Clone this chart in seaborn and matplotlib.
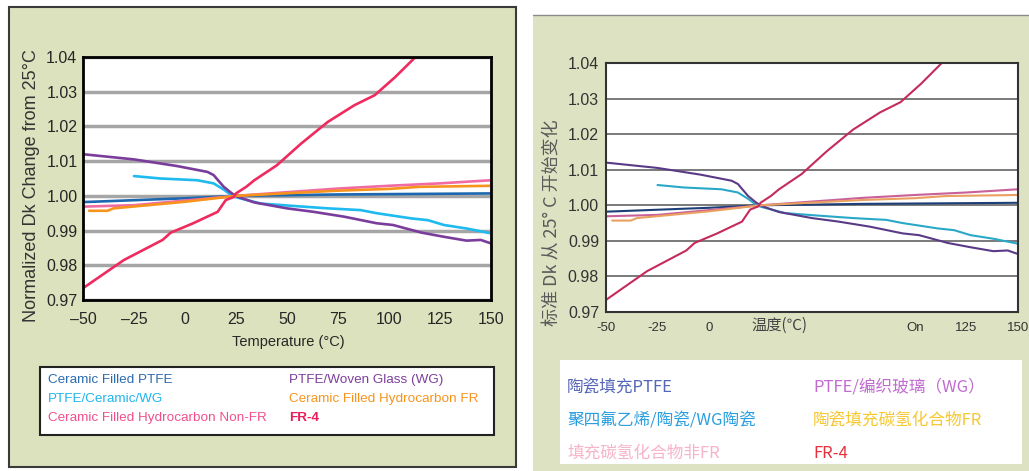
import matplotlib
matplotlib.use("Agg")
import matplotlib.pyplot as plt
from matplotlib.patches import Rectangle
from matplotlib.transforms import blended_transform_factory
import pandas as pd
import seaborn as sns

# Dk vs temperature (same curves in both panels)
series = ['cf_ptfe', 'ptfe_cer_wg', 'hc_nonfr', 'ptfe_wg', 'hc_fr', 'fr4']

cf_ptfe_t = [-50, 0, 25, 75, 150]
cf_ptfe_dk = [0.9982, 0.9993, 1.0000, 1.0004, 1.0007]

ptfe_cer_wg_t = [-25, -12, 6, 14, 19, 22, 25, 37, 53, 70, 86, 94, 111, 119, 127, 138, 150]
ptfe_cer_wg_dk = [1.0057, 1.0050, 1.0045, 1.0036, 1.0018, 1.0005, 0.9996, 0.9978, 0.9971,
                  0.9964, 0.9959, 0.9950, 0.9935, 0.9930, 0.9916, 0.9906, 0.9892]

hc_nonfr_t = [-50, -25, 25, 75, 100, 125, 150]
hc_nonfr_dk = [0.9969, 0.9973, 1.0000, 1.0021, 1.0029, 1.0036, 1.0045]

ptfe_wg_t = [-50, -25, -4, 11, 14, 19, 23, 26, 34, 50, 63, 78, 94, 102, 116, 127, 138, 145, 150]
ptfe_wg_dk = [1.0120, 1.0105, 1.0086, 1.0069, 1.0060, 1.0026, 1.0007, 0.9997, 0.9981, 0.9964,
              0.9954, 0.9940, 0.9921, 0.9916, 0.9894, 0.9882, 0.9871, 0.9873, 0.9863]

hc_fr_t = [-47, -38, -35, 0, 25, 75, 100, 115, 150]
hc_fr_dk = [0.9957, 0.9957, 0.9964, 0.9983, 1.0000, 1.0015, 1.0020, 1.0026, 1.0029]

fr4_t = [-50, -30, -11, -7, 4, 16, 20, 24, 25, 30, 34, 45, 57, 70, 83, 93, 103, 113]
fr4_dk = [0.9734, 0.9815, 0.9873, 0.9894, 0.9921, 0.9954, 0.9988, 0.9997, 1.0007, 1.0026,
          1.0045, 1.0088, 1.0151, 1.0213, 1.0261, 1.0290, 1.0342, 1.0400]

labels_en = ['Ceramic Filled PTFE', 'PTFE/Ceramic/WG', 'Ceramic Filled Hydrocarbon Non-FR',
             'PTFE/Woven Glass (WG)', 'Ceramic Filled Hydrocarbon FR', 'FR-4']
labels_cn = ['陶瓷填充PTFE', '聚四氟乙烯/陶瓷/WG陶瓷', '填充碳氢化合物非FR',
             'PTFE/编织玻璃（WG）', '陶瓷填充碳氢化合物FR', 'FR-4']

yticks = [0.97, 0.98, 0.99, 1.00, 1.01, 1.02, 1.03, 1.04]
xticks = [-50, -25, 0, 25, 50, 75, 100, 125, 150]
xlabels_en = ['–50', '–25', '0', '25', '50', '75', '100', '125', '150']
xlabels_cn = ['-50', '-25', '0', '', '', '', 'On', '125', '150']

# colours
line_en = ['#1b67b0', '#1ebaf0', '#f06aa3', '#7a3d9c', '#f7941d', '#ef2b5e']
text_en = ['#2b6cb0', '#20b5ee', '#f0508c', '#7d3f9c', '#f7941d', '#ec1e5a']
line_cn = ['#1d3f78', '#2aa8c8', '#c8609a', '#5a3a86', '#eaa060', '#c42a5a']
text_cn = ['#5566b8', '#2a9fe0', '#f7b3c8', '#c06cd0', '#f5c832', '#e8303c']

df = pd.concat([
    pd.DataFrame({'temp': t, 'dk': d, 'series': s})
    for s, t, d in zip(series,
                       [cf_ptfe_t, ptfe_cer_wg_t, hc_nonfr_t, ptfe_wg_t, hc_fr_t, fr4_t],
                       [cf_ptfe_dk, ptfe_cer_wg_dk, hc_nonfr_dk, ptfe_wg_dk, hc_fr_dk, fr4_dk])
], ignore_index=True)

sns.set_style("white")
plt.rcParams['font.family'] = ['Liberation Sans', 'DejaVu Sans']
CJK = ['Noto Sans CJK SC', 'DejaVu Sans']

W, H = 1029, 471
fig = plt.figure(figsize=(W / 100, H / 100), dpi=100)
fig.patch.set_facecolor('white')


def box(x0, y0, x1, y1):
    return [x0 / W, 1 - y1 / H, (x1 - x0) / W, (y1 - y0) / H]


# background layer in pixel coordinates
bg = fig.add_axes([0, 0, 1, 1], zorder=0)
bg.set_xlim(0, W)
bg.set_ylim(H, 0)
bg.axis('off')
bg.add_patch(Rectangle((9, 7), 507, 460, fc='#dce2bd', ec='#3a3a3a', lw=1.5))
bg.add_patch(Rectangle((533, 15), 500, 460, fc='#dde3c2', ec='none'))
bg.plot([533, 1029], [15, 15], color='#8a8a8a', lw=1)
bg.add_patch(Rectangle((40, 367), 454, 68, fc='white', ec='#222222', lw=1.5))
bg.add_patch(Rectangle((560, 360), 462, 104, fc='white', ec='none'))

# ---- left panel (English)
axL = fig.add_axes(box(83, 57, 491, 300), zorder=2)
sns.lineplot(data=df, x='temp', y='dk', hue='series', hue_order=series, palette=line_en,
             ax=axL, legend=False, lw=1.9, estimator=None)
axL.set_facecolor('white')
axL.set_xlim(-50, 150)
axL.set_ylim(0.97, 1.04)
axL.set_yticks(yticks)
axL.set_yticklabels([f'{v:.2f}' for v in yticks])
axL.set_xticks(xticks)
axL.set_xticklabels(xlabels_en)
axL.yaxis.grid(True, color='#a6a6a6', lw=2.5)
axL.set_axisbelow(True)
axL.tick_params(axis='x', direction='in', length=6, width=1, color='#888888', pad=9, labelsize=11.5)
axL.tick_params(axis='y', length=0, pad=4, labelsize=11.5)
axL.set_xlabel('')
axL.set_ylabel('')
for sp in axL.spines.values():
    sp.set_color('black')
    sp.set_linewidth(2)

bg.text(288, 342, 'Temperature (°C)', ha='center', va='center', fontsize=10.5)
bg.text(32, 186, 'Normalized Dk Change from 25°C', ha='center', va='center',
        rotation=90, fontsize=13, color='#333333')
for i, (lab, c) in enumerate(zip(labels_en, text_en)):
    x = 48 if i < 3 else 289
    y = [380, 399, 418][i % 3]
    bg.text(x, y, lab, ha='left', va='center', fontsize=9.7, color=c,
            fontweight='bold' if lab == 'FR-4' else 'normal')

# ---- right panel (Chinese)
axR = fig.add_axes(box(606, 63, 1018, 312), zorder=2)
sns.lineplot(data=df, x='temp', y='dk', hue='series', hue_order=series, palette=line_cn,
             ax=axR, legend=False, lw=1.5, estimator=None)
axR.set_facecolor('white')
axR.set_xlim(-50, 150)
axR.set_ylim(0.97, 1.04)
axR.set_yticks(yticks)
axR.set_yticklabels([f'{v:.2f}' for v in yticks])
axR.set_xticks(xticks)
axR.set_xticklabels(xlabels_cn)
axR.yaxis.grid(True, color='#7a7a7a', lw=1.4)
axR.set_axisbelow(True)
axR.tick_params(axis='x', direction='in', length=8, width=1, color='#999999', pad=7,
                labelsize=9.5, labelcolor='#333333')
axR.tick_params(axis='y', length=0, pad=5, labelsize=11.5, labelcolor='#333333')
axR.set_xlabel('')
axR.set_ylabel('')
for sp in axR.spines.values():
    sp.set_color('#333333')
    sp.set_linewidth(1.5)

trans = blended_transform_factory(axR.transData, axR.transAxes)
axR.text(34, -0.055, '温度(℃)', transform=trans, ha='center', va='center',
         fontsize=11, color='#444444', family=CJK)
bg.text(553, 223, '标准 Dk 从 25° C 开始变化', ha='center', va='center', rotation=90,
        fontsize=13, color='#5a5a5a', family=CJK)
for i, (lab, c) in enumerate(zip(labels_cn, text_cn)):
    x = 567 if i < 3 else 813
    y = [387, 420, 453][i % 3]
    bg.text(x, y, lab, ha='left', va='center', fontsize=12, color=c, family=CJK)

fig.savefig('out.png', dpi=100)
